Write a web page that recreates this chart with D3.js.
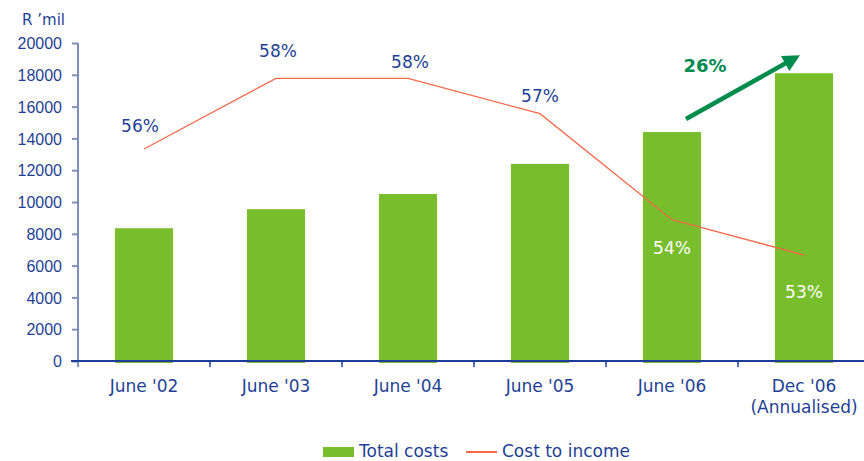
<!DOCTYPE html>
<html>
<head>
<meta charset="utf-8">
<script src="https://cdn.jsdelivr.net/npm/d3@7"></script>
<style>
  body { margin: 0; background: #fff; }
  svg { display: block; font-family: "DejaVu Sans", Verdana, sans-serif; }
</style>
</head>
<body>
<div id="chart"></div>
<script>
// Data
const periods = ["June '02", "June '03", "June '04", "June '05", "June '06", "Dec '06\n(Annualised)"];
const totalCosts = [8350, 9550, 10500, 12400, 14400, 18100];
const costToIncome = [56, 58, 58, 57, 54, 53];
const yTicks = [0, 2000, 4000, 6000, 8000, 10000, 12000, 14000, 16000, 18000, 20000];

// label offsets (px) for the percentage labels, relative to each line point
const labelDx = [-4, 2, 2, 0, 0, 0];
const labelDy = [-17, -21, -10, -12, 34, 43];

const W = 864, H = 461;
const navy = "#1f3f95";
const green = "#78be2c";
const red = "#f4694a";
const arrowGreen = "#008b4f";

const svg = d3.select("#chart").append("svg")
    .attr("width", W)
    .attr("height", H);

const x = d3.scaleBand()
    .domain(periods)
    .range([78, 870])
    .padding(0);

const barW = x.bandwidth() * 0.44;

const y = d3.scaleLinear()
    .domain([0, 20000])
    .range([361, 43]);

// hidden secondary scale for the ratio line
const y2 = d3.scaleLinear()
    .domain([50, 59])
    .range([361, 43]);

// y axis
const yAxis = svg.append("g")
    .attr("transform", "translate(78,0)")
    .call(d3.axisLeft(y).tickValues(yTicks).tickFormat(d3.format("d"))
        .tickSize(6).tickPadding(10).tickSizeOuter(0));
yAxis.select(".domain").attr("stroke", "#7d91b6").attr("stroke-width", 2).attr("d", "M0,43V367");
yAxis.selectAll(".tick line").attr("stroke", "#7d91b6").attr("stroke-width", 2);
yAxis.selectAll(".tick text")
    .attr("fill", navy)
    .style("font-size", "16px")
    .attr("dy", "0.36em");

svg.append("text")
    .attr("x", 65)
    .attr("y", 25)
    .attr("text-anchor", "end")
    .attr("fill", navy)
    .style("font-size", "15px")
    .text("R \u2019mil");

// bars
svg.selectAll("rect.bar")
    .data(periods)
    .enter()
    .append("rect")
    .attr("class", "bar")
    .attr("x", (d, i) => x(d) + x.bandwidth() / 2 - barW / 2)
    .attr("y", (d, i) => y(totalCosts[i]))
    .attr("width", barW)
    .attr("height", (d, i) => y(0) - y(totalCosts[i]) + 2)
    .attr("fill", green);

// x axis line and ticks
svg.append("line")
    .attr("x1", 71).attr("x2", W)
    .attr("y1", y(0)).attr("y2", y(0))
    .attr("stroke", "#1b3c98")
    .attr("stroke-width", 2);

svg.selectAll("line.xtick")
    .data(periods.slice(1))
    .enter()
    .append("line")
    .attr("class", "xtick")
    .attr("x1", d => x(d)).attr("x2", d => x(d))
    .attr("y1", y(0)).attr("y2", y(0) + 6)
    .attr("stroke", "#1b3c98")
    .attr("stroke-width", 1.5);

const xLabels = svg.selectAll("text.xlabel")
    .data(periods)
    .enter()
    .append("text")
    .attr("class", "xlabel")
    .attr("text-anchor", "middle")
    .attr("fill", navy)
    .style("font-size", "17px");
xLabels.each(function(d) {
    const t = d3.select(this);
    d.split("\n").forEach((line, k) => {
        t.append("tspan")
            .attr("x", x(d) + x.bandwidth() / 2)
            .attr("y", y(0) + 31 + k * 21)
            .text(line);
    });
});

// cost to income line
const line = d3.line()
    .x((d, i) => x(periods[i]) + x.bandwidth() / 2)
    .y(d => y2(d));

svg.append("path")
    .datum(costToIncome)
    .attr("d", line)
    .attr("fill", "none")
    .attr("stroke", red)
    .attr("stroke-width", 1.3);

svg.selectAll("text.pct")
    .data(costToIncome)
    .enter()
    .append("text")
    .attr("class", "pct")
    .attr("x", (d, i) => x(periods[i]) + x.bandwidth() / 2 + labelDx[i])
    .attr("y", (d, i) => y2(d) + labelDy[i])
    .attr("text-anchor", "middle")
    .attr("fill", (d, i) => i >= 4 ? "#ffffff" : navy)
    .style("font-size", "17px")
    .text(d => d + "%");

// growth arrow between the last two bars
const x5 = x(periods[4]) + x.bandwidth() / 2;
const x6 = x(periods[5]) + x.bandwidth() / 2;
const sx = x5 + 14, sy = y(totalCosts[4]) - 13;
const ex = x6 - 4, ey = y(totalCosts[5]) - 18;
const len = Math.hypot(ex - sx, ey - sy);
const ux = (ex - sx) / len, uy = (ey - sy) / len;
const headL = 17, headW = 8.5;
const bx = ex - ux * headL, by = ey - uy * headL;

svg.append("line")
    .attr("x1", sx).attr("y1", sy)
    .attr("x2", bx + ux * 2).attr("y2", by + uy * 2)
    .attr("stroke", arrowGreen)
    .attr("stroke-width", 4.5);

svg.append("path")
    .attr("d", `M${ex},${ey}L${bx - uy * headW},${by + ux * headW}L${bx + uy * headW},${by - ux * headW}Z`)
    .attr("fill", arrowGreen);

svg.append("text")
    .attr("x", 705)
    .attr("y", 72)
    .attr("text-anchor", "middle")
    .attr("fill", arrowGreen)
    .style("font-size", "18px")
    .style("font-weight", "bold")
    .text("26%");

// legend
const legend = svg.append("g");
legend.append("rect")
    .attr("x", 323).attr("y", 447)
    .attr("width", 31).attr("height", 10)
    .attr("fill", green);
legend.append("text")
    .attr("x", 359).attr("y", 457)
    .attr("fill", navy)
    .style("font-size", "17px")
    .text("Total costs");
legend.append("line")
    .attr("x1", 466).attr("x2", 497)
    .attr("y1", 452).attr("y2", 452)
    .attr("stroke", red)
    .attr("stroke-width", 2);
legend.append("text")
    .attr("x", 502).attr("y", 457)
    .attr("fill", navy)
    .style("font-size", "17px")
    .text("Cost to income");
</script>
</body>
</html>
